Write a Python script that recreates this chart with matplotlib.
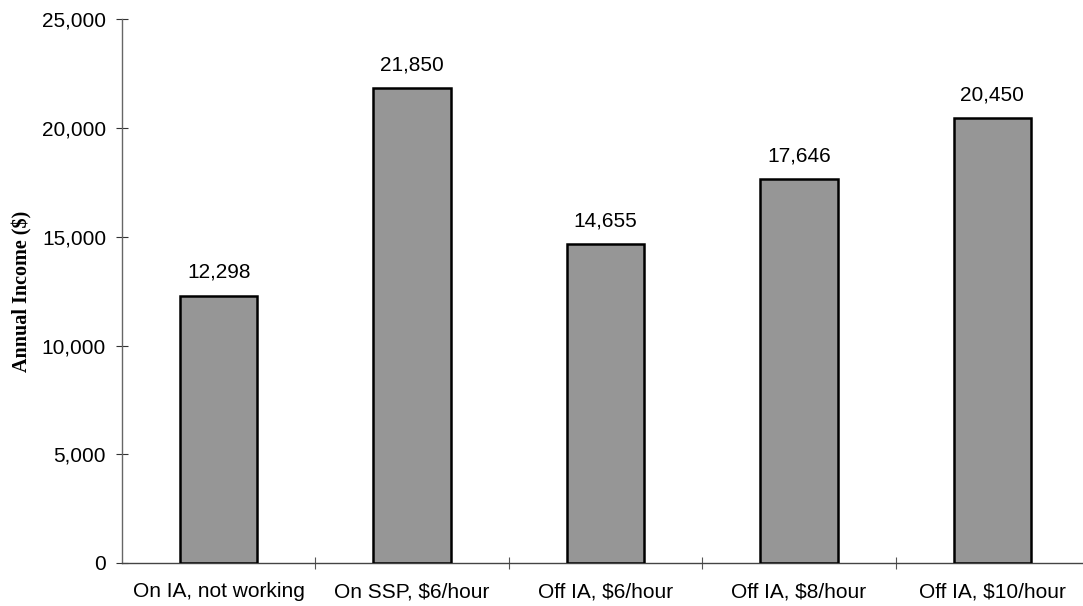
import matplotlib.pyplot as plt
from matplotlib.ticker import FuncFormatter, MultipleLocator

categories = ['On IA, not working', 'On SSP, $6/hour', 'Off IA, $6/hour',
              'Off IA, $8/hour', 'Off IA, $10/hour']
income = [12298, 21850, 14655, 17646, 20450]

plt.rcParams['font.family'] = ['Liberation Sans', 'DejaVu Sans']

fig = plt.figure(figsize=(10.83, 6.06), dpi=100)
# axes runs a little past the right edge of the figure
ax = fig.add_axes([122 / 1083, 43 / 606, 967 / 1083, 543.5 / 606])

x = list(range(len(categories)))
ax.bar(x, income, width=0.4, color='#969696', edgecolor='black', linewidth=1.8, zorder=3)

for xi, v in zip(x, income):
    ax.annotate(f'{v:,}', (xi, v), xytext=(0, 10), textcoords='offset points',
                ha='center', va='bottom', fontsize=15)

ax.set_xlim(-0.5, len(categories) - 0.5)
ax.set_ylim(0, 25000)
ax.yaxis.set_major_locator(MultipleLocator(5000))
ax.yaxis.set_major_formatter(FuncFormatter(lambda v, p: f'{int(v):,}'))

ax.set_xticks(x)
ax.set_xticklabels(categories)
ax.set_xticks([i + 0.5 for i in x[:-1]], minor=True)
ax.tick_params(axis='x', which='major', length=0, pad=14, labelsize=15)
ax.tick_params(axis='x', which='minor', direction='inout', length=9, width=0.8, color='#555555')
ax.tick_params(axis='y', direction='inout', length=9, width=0.8, color='#333333', pad=7, labelsize=15)

for side in ('top', 'right'):
    ax.spines[side].set_visible(False)
ax.spines['left'].set_color('#666666')
ax.spines['bottom'].set_color('#444444')
ax.spines['left'].set_linewidth(1.0)
ax.spines['bottom'].set_linewidth(1.0)

ax.set_ylabel('Annual Income ($)', fontfamily='Liberation Serif', fontweight='bold',
              fontsize=14.5, labelpad=7)

fig.savefig('out.png', dpi=100)
